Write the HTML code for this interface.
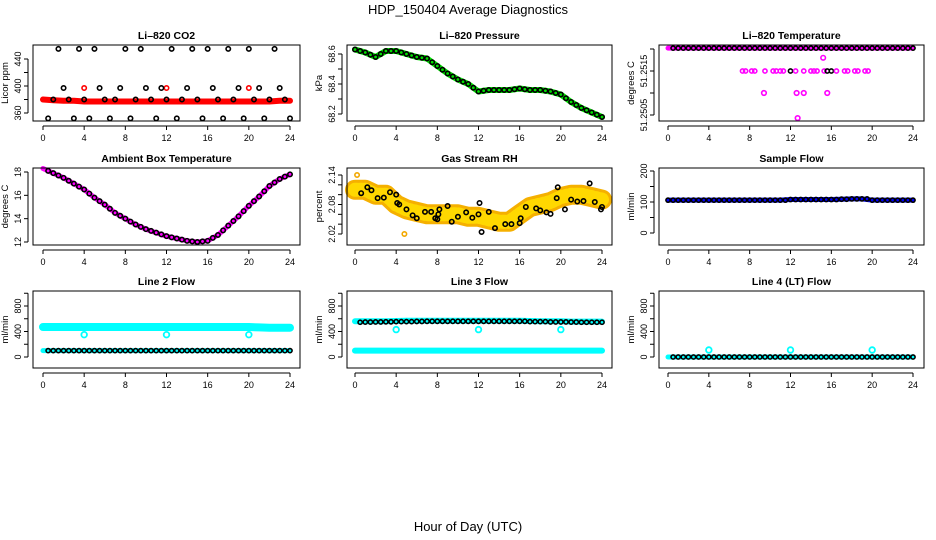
<!DOCTYPE html>
<html><head><meta charset="utf-8"><style>
html,body{margin:0;padding:0;background:#fff}
svg{display:block;font-family:"Liberation Sans",sans-serif}
</style></head><body>
<svg id="c" width="936" height="540" viewBox="0 0 936 540">
<text x="468" y="14" text-anchor="middle" font-size="13">HDP_150404  Average Diagnostics</text>
<text x="468" y="531" text-anchor="middle" font-size="13">Hour of Day (UTC)</text>
</svg>
<script>
// ---- data ----
var xTicks = [0,4,8,12,16,20,24];
var hrs = [0,1,2,3,4,5,6,7,8,9,10,11,12,13,14,15,16,17,18,19,20,21,22,23,24];
var halfHrs = [0.5,1,1.5,2,2.5,3,3.5,4,4.5,5,5.5,6,6.5,7,7.5,8,8.5,9,9.5,10,10.5,11,11.5,12,12.5,13,13.5,14,14.5,15,15.5,16,16.5,17,17.5,18,18.5,19,19.5,20,20.5,21,21.5,22,22.5,23,23.5,24];
// CO2
var co2Black = [352,380,455,397,380,352,455,380,352,455,397,380,352,380,397,455,352,380,455,397,380,352,397,380,455,352,380,397,455,380,352,455,397,380,352,455,380,397,352,455,380,397,352,380,455,397,380,352];
var co2Red = [380,379,378,378,377,377,377,377,377,377,377,377,377,377,377,377,377,377,377,377,377,377,377,378,378];
var co2RedPts = [[4,397],[12,397],[20,397]];
// Pressure
var pres = [68.63,68.61,68.58,68.62,68.62,68.60,68.58,68.57,68.52,68.47,68.43,68.40,68.35,68.36,68.36,68.36,68.37,68.36,68.36,68.35,68.33,68.28,68.24,68.21,68.18];
// Li-820 temperature
var tempTopHrs = halfHrs;
var tempTop = 51.25202;
var tempMidHrs = [7.3,7.6,8.2,8.5,9.5,10.3,10.6,11,11.3,12,12.5,13.3,14,14.3,14.6,15.3,15.6,16,16.5,17.3,17.6,18.3,18.6,19.3,19.6];
var tempMid = 51.2515;
var tempOther = [[15.2,51.2518],[9.4,51.2510],[12.6,51.2510],[13.3,51.2510],[15.6,51.2510],[12.7,51.25043]];
// Ambient box temperature
var ambient = [18.3,17.9,17.5,17.0,16.5,15.8,15.2,14.5,14.0,13.5,13.1,12.8,12.5,12.3,12.1,12.0,12.1,12.6,13.4,14.2,15.1,15.9,16.8,17.4,17.8];
// Gas stream RH
var rhBand = [2.11,2.11,2.10,2.10,2.08,2.07,2.065,2.06,2.06,2.06,2.06,2.055,2.055,2.05,2.045,2.045,2.06,2.075,2.08,2.085,2.095,2.10,2.10,2.095,2.09];
var rhHrs = [0.6,1.2,1.6,2.2,2.8,3.4,4,4.1,4.3,5,5.6,6,6.8,7.4,7.8,8,8.1,8.2,9,9.4,10,10.8,11.4,12,12.1,12.3,13,13.6,14.6,15.2,16,16.1,16.6,17.6,18,18.6,19,19.6,19.7,20.4,21,21.6,22.2,22.8,23.3,23.9,24];
var rhVals = [2.103,2.115,2.109,2.093,2.094,2.105,2.10,2.083,2.08,2.07,2.058,2.052,2.065,2.065,2.052,2.05,2.06,2.07,2.077,2.045,2.055,2.064,2.053,2.06,2.083,2.024,2.065,2.032,2.040,2.040,2.042,2.052,2.075,2.072,2.068,2.064,2.061,2.093,2.115,2.070,2.090,2.086,2.087,2.123,2.085,2.07,2.075];
// Sample flow
var sampleFlow = [106,106,106,106,106,106,106,106,106,106,106,106,108,108,108,108,108,109,110,110,106,106,106,106,106];
// Line flows
var line2High = [470,470,470,470,470,470,470,470,470,470,470,470,470,470,470,470,470,470,470,470,470,465,460,460,460];
var line2Low = 100;
var line2Out = [350,350,350];
var line3High = [560,560,560,560,565,570,570,570,570,570,570,570,570,570,570,570,570,565,560,560,560,555,555,555,555];
var line3Black = [545,548,550,552,555,555,558,560,560,560,560,560,560,560,560,560,560,555,555,550,550,548,545,545,545];
var line3Low = 100;
var line3Out = [430,430,430];
var line4Black = 0;
var line4Out = [110,110,110];
var outHrs = [4,12,20];

// ---- drawing ----
var svg = document.getElementById('c');
var NS = 'http://www.w3.org/2000/svg';
function mk(tag, attrs, parent){var e=document.createElementNS(NS,tag);for(var k in attrs)e.setAttribute(k,attrs[k]);(parent||svg).appendChild(e);return e;}
function lin(v1,p1,v2,p2){return function(v){return p1+(v-v1)*(p2-p1)/(v2-v1);};}
var cols=[{l:33,r:300,x0:43,x24:290},{l:347,r:612,x0:355,x24:602},{l:659,r:924,x0:668,x24:913}];
var rows=[{t:45,b:121},{t:168,b:245},{t:291,b:368}];

function panel(ci,ri,title,ylab,yv1,yp1,yv2,yp2,ticks,labels,name){
  var c=cols[ci],r=rows[ri];
  var g=mk('g',{});
  
  
  var xs=lin(0,c.x0,24,c.x24), ys=lin(yv1,yp1,yv2,yp2);
  var t=mk('text',{x:(c.l+c.r)/2,y:r.t-6,'text-anchor':'middle','font-size':'10.5','font-weight':'bold'},g);
  t.textContent=title;
  
  
  var pg=mk('g',{},g);
  
  
  var ax=mk('g',{},g);
  
  
  mk('line',{x1:xs(0),x2:xs(24),y1:r.b+5,y2:r.b+5,stroke:'#000','stroke-width':1},ax);
  xTicks.forEach(function(v){
    mk('line',{x1:xs(v),x2:xs(v),y1:r.b+5,y2:r.b+9,stroke:'#000'},ax);
    var tt=mk('text',{x:xs(v),y:r.b+20,'text-anchor':'middle','font-size':'9'},ax);tt.textContent=v;
  });
  var ay=mk('g',{},g);
  
  
  var yl=c.l-5;
  mk('line',{x1:yl,x2:yl,y1:ys(ticks[0]),y2:ys(ticks[ticks.length-1]),stroke:'#000'},ay);
  ticks.forEach(function(v){mk('line',{x1:yl-4,x2:yl,y1:ys(v),y2:ys(v),stroke:'#000'},ay);});
  labels.forEach(function(v){
    var y=ys(v),x=yl-7;
    var tt=mk('text',{x:x,y:y,'text-anchor':'middle','font-size':'9',transform:'rotate(-90 '+x+' '+y+')'},ay);tt.textContent=v;
  });
  var lx=c.l-25,ly=(r.t+r.b)/2;
  var yt=mk('text',{x:lx,y:ly,'text-anchor':'middle','font-size':'9.5',transform:'rotate(-90 '+lx+' '+ly+')'},ay);
  yt.textContent=ylab;
  
  
  mk('rect',{x:c.l,y:r.t,width:c.r-c.l,height:r.b-r.t,fill:'none',stroke:'#000'},g);
  return {xs:xs,ys:ys,g:pg};
}
function pt(p,h,v,col,rad,sw){
  var e=mk('circle',{cx:p.xs(h),cy:p.ys(v),r:rad||2.2,fill:'none',stroke:col,'stroke-width':sw||1.6},p.g);
  
  
  return e;
}
function band(p,xsArr,vals,col,w,name){
  var d=xsArr.map(function(h,i){return (i?'L':'M')+p.xs(h).toFixed(1)+','+p.ys(vals[i]).toFixed(1);}).join('');
  var e=mk('path',{d:d,fill:'none',stroke:col,'stroke-width':w,'stroke-linejoin':'round','stroke-linecap':'round'},p.g);
  
  
  return e;
}

// Panel 1: CO2
var p=panel(0,0,'Li\u2013820 CO2','Licor ppm',360,113,440,59,[360,380,400,420,440],[360,400,440],'co2');
band(p,hrs,co2Red,'#ff0000',6,'co2-red-band');
co2RedPts.forEach(function(a){pt(p,a[0],a[1],'#ff0000');});
halfHrs.forEach(function(h,i){pt(p,h,co2Black[i],'#000');});

// Panel 2: Pressure
p=panel(1,0,'Li\u2013820 Pressure','kPa',68.6,54,68.2,114,[68.2,68.3,68.4,68.5,68.6],[68.2,68.4,68.6],'pressure');
band(p,hrs,pres,'#00e000',6,'pressure-green-band');
hrs.forEach(function(h,i){pt(p,h,pres[i],'#000');});
hrs.slice(0,24).forEach(function(h,i){pt(p,h+0.5,(pres[i]+pres[i+1])/2,'#000');});

// Panel 3: Li-820 temperature
p=panel(2,0,'Li\u2013820 Temperature','degrees C',51.2515,71,51.2505,115,[51.2505,51.2510,51.2515,51.2520],[51.2505,51.2515],'li820-temp');
band(p,[0,24],[tempTop,tempTop],'#ff00ff',5,'temp-magenta-band');
tempTopHrs.forEach(function(h){pt(p,h,tempTop,'#000',2.1);});
tempMidHrs.forEach(function(h,i){pt(p,h,tempMid,(i==9||i==16||i==17)?'#000':'#ff00ff',2.1);});
tempOther.forEach(function(a){pt(p,a[0],a[1],'#ff00ff',2.3);});

// Panel 4: Ambient
p=panel(0,1,'Ambient Box Temperature','degrees C',18,172,12,242,[12,14,16,18],[12,14,16,18],'ambient-temp');
band(p,hrs,ambient,'#ff00ff',5,'ambient-magenta-band');
halfHrs.forEach(function(h,i){var k=Math.floor(h),f=h-k;var v=k<24?ambient[k]*(1-f)+ambient[k+1]*f:ambient[24];pt(p,h,v,'#000');});

// Panel 5: Gas stream RH
p=panel(1,1,'Gas Stream RH','percent',2.14,175,2.02,234,[2.02,2.04,2.06,2.08,2.10,2.12,2.14],[2.02,2.08,2.14],'gas-rh');
band(p,hrs,rhBand,'#f5b000',20,'rh-orange-band');
band(p,hrs,rhBand,'#ffd800',14,'rh-yellow-dots').setAttribute('stroke-dasharray','2 3');
rhHrs.forEach(function(h,i){pt(p,h,rhVals[i],'#000');});
pt(p,4.8,2.02,'#f2a800');pt(p,0.2,2.14,'#f2a800');

// Panel 6: Sample flow
p=panel(2,1,'Sample Flow','ml/min',200,171,0,233,[0,50,100,150,200],[0,100,200],'sample-flow');
band(p,hrs,sampleFlow,'#0000ff',5,'sample-flow-blue-band');
hrs.forEach(function(h,i){pt(p,h,sampleFlow[i],'#000',2.1);});
halfHrs.forEach(function(h,i){if(h%1)pt(p,h,sampleFlow[Math.floor(h)],'#000',2.1);});

// Panel 7: Line 2 flow
var ft=[0,200,400,600,800,1000],fl=[0,400,800];
p=panel(0,2,'Line 2 Flow','ml/min',0,357,800,306,ft,fl,'line2-flow');
band(p,hrs,line2High,'#00ffff',8,'line2-cyan-band');
band(p,[0,24],[line2Low,line2Low],'#00ffff',5,'line2-low-band');
halfHrs.forEach(function(h){pt(p,h,line2Low,'#000',2.1);});
outHrs.forEach(function(h,i){pt(p,h,line2Out[i],'#00ffff',2.8,1.8);});

// Panel 8: Line 3 flow
p=panel(1,2,'Line 3 Flow','ml/min',0,357,800,306,ft,fl,'line3-flow');
band(p,hrs,line3High,'#00ffff',6,'line3-cyan-band');
band(p,[0,24],[line3Low,line3Low],'#00ffff',6,'line3-low-band');
hrs.forEach(function(h,i){if(h>0.5)pt(p,h,line3Black[i],'#000',2.1);});
halfHrs.forEach(function(h){if(h%1)pt(p,h,line3Black[Math.floor(h)],'#000',2.1);});
outHrs.forEach(function(h,i){pt(p,h,line3Out[i],'#00ffff',2.8,1.8);});

// Panel 9: Line 4 flow
p=panel(2,2,'Line 4 (LT) Flow','ml/min',0,357,800,306,ft,fl,'line4-flow');
band(p,[0,24],[line4Black,line4Black],'#00ffff',5,'line4-cyan-band');
halfHrs.forEach(function(h){pt(p,h,line4Black,'#000',2.1);});
outHrs.forEach(function(h,i){pt(p,h,line4Out[i],'#00ffff',2.8,1.8);});
</script>
</body></html>
